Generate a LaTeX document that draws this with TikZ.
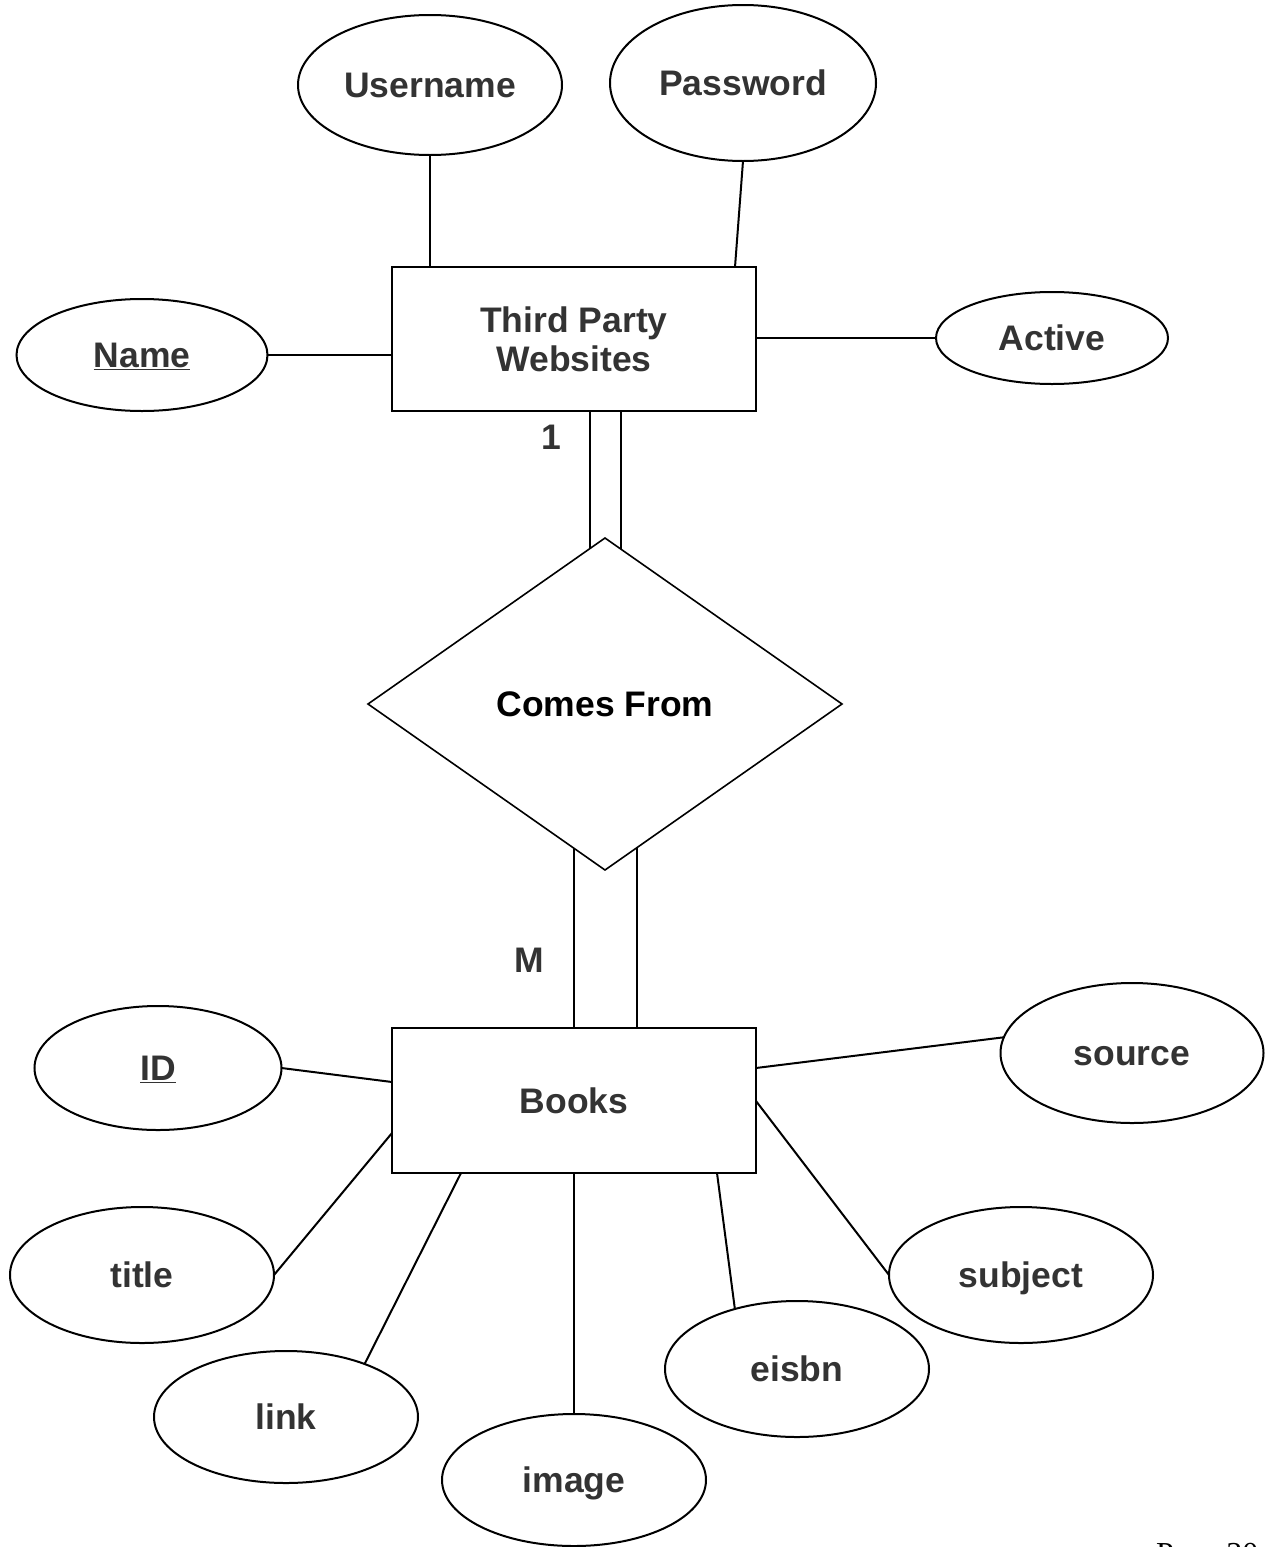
\documentclass[tikz,border=0pt]{standalone}
\usepackage{fontspec}
\setmainfont{Liberation Sans}
\newfontfamily\pagefont{Liberation Serif}
\usetikzlibrary{shapes.geometric,calc}
\definecolor{txt}{HTML}{333333}
\begin{document}
\begin{tikzpicture}[x=1pt,y=-1pt,
  every node/.style={font=\fontsize{35.5}{41}\selectfont\bfseries, text=txt},
  capc/.style={text height=25.4pt, text depth=0pt},
  attr/.style={draw, ellipse, line width=2pt, inner sep=0pt, outer sep=0pt, capc},
  entity/.style={draw, rectangle, line width=2.4pt, inner sep=0pt, outer sep=0pt, align=center},
  rel/.style={draw, diamond, line width=1.6pt, inner sep=0pt, outer sep=0pt, text=black, capc},
  conn/.style={line width=2pt},
  card/.style={text=txt, capc}]
\useasboundingbox (0,0) rectangle (1270,1547);
% entities
\node[entity, minimum width=364pt, minimum height=144pt] (tp) at (574,339) {Third Party\\[-2pt]Websites};
\node[entity, minimum width=364pt, minimum height=145pt, capc] (books) at (574,1100.5) {Books};
% relationship
\node[rel, minimum width=474pt, minimum height=332pt] (dia) at (605,704) {Comes From};
% attributes of Third Party Websites
\node[attr, minimum width=264pt, minimum height=140pt] (user) at (430,85) {Username};
\node[attr, minimum width=266pt, minimum height=156pt] (pass) at (743,83) {Password};
\node[attr, minimum width=251pt, minimum height=112pt] (name) at (142,355) {\underline{Name}};
\node[attr, minimum width=232pt, minimum height=92pt] (act) at (1052,338) {Active};
% attributes of Books
\node[attr, minimum width=247pt, minimum height=124pt] (id) at (158,1068) {\underline{ID}};
\node[attr, minimum width=263pt, minimum height=140pt] (src) at (1132,1053) {source};
\node[attr, minimum width=264pt, minimum height=136pt] (title) at (142,1275) {title};
\node[attr, minimum width=264pt, minimum height=132pt] (link) at (286,1417) {link};
\node[attr, minimum width=264pt, minimum height=132pt] (img) at (574,1480) {image};
\node[attr, minimum width=264pt, minimum height=136pt] (eis) at (797,1369) {eisbn};
\node[attr, minimum width=264pt, minimum height=136pt] (subj) at (1021,1275) {subject};
% connectors, Third Party Websites
\draw[conn] (user.south) -- (user.south |- tp.north);
\draw[conn] (pass.south) -- ($(tp.north east)+(-21,0)$);
\draw[conn] (name.east) -- (name.east -| tp.west);
\draw[conn] (act.west) -- (act.west -| tp.east);
% double lines to relationship
\coordinate (d1) at ($(dia.north)!{15/237}!(dia.west)$);
\coordinate (d2) at ($(dia.north)!{16/237}!(dia.east)$);
\coordinate (d3) at ($(dia.south)!{31/237}!(dia.west)$);
\coordinate (d4) at ($(dia.south)!{32/237}!(dia.east)$);
\draw[conn] (d1 |- tp.south) -- (d1);
\draw[conn] (d2 |- tp.south) -- (d2);
\draw[conn] (d3) -- (d3 |- books.north);
\draw[conn] (d4) -- (d4 |- books.north);
% cardinalities
\node[card] (c1) at (551,437) {1};
\node[card] (cm) at (529,960) {M};
% connectors, Books
\draw[conn] (id.east) -- ($(books.north west)+(0,54)$);
\draw[conn] (src.173) -- ($(books.north east)+(0,40)$);
\draw[conn] (title.east) -- ($(books.north west)+(0,105)$);
\draw[conn] (link.34) -- ($(books.south west)+(69,0)$);
\draw[conn] (img.north) -- (img.north |- books.south);
\draw[conn] (eis.136) -- ($(books.south east)+(-39,0)$);
\draw[conn] (subj.west) -- ($(books.north east)+(0,73)$);
% page number (cut off at the bottom edge, as in the reference)
\node[anchor=base west, inner sep=0pt, text=black, font=\pagefont\fontsize{32}{38}\selectfont] (pg) at (1156,1564) {Page 30};
\end{tikzpicture}
\end{document}
